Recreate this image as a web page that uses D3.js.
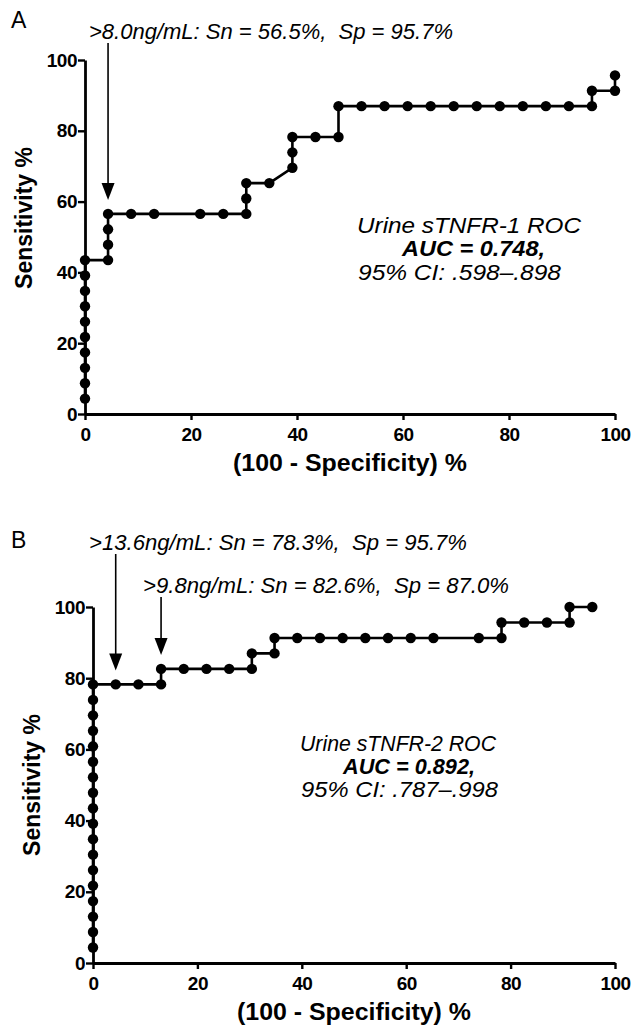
<!DOCTYPE html>
<html>
<head>
<meta charset="utf-8">
<script src="https://cdn.jsdelivr.net/npm/d3@7"></script>
<style>
  html, body { margin: 0; padding: 0; background: #fff; }
  svg { display: block; font-family: "Liberation Sans", Arial, sans-serif; }
</style>
</head>
<body>
<svg id="chart" width="633" height="1031"></svg>
<script>
// ---- Data ----
const fprA  = [0,0,0,0,0,0,0,0,0,0, 4.35,4.35,4.35,4.35, 8.70,13.04,21.74,26.09,30.43,30.43,30.43, 34.78, 39.13,39.13,39.13, 43.48, 47.83,47.83, 52.17,56.52,60.87,65.22,69.57,73.91,78.26,82.61,86.96,91.30,95.65,95.65, 100,100];
const sensA = [4.35,8.70,13.04,17.39,21.74,26.09,30.43,34.78,39.13,43.48, 43.48,47.83,52.17,56.52, 56.52,56.52,56.52,56.52,56.52,60.87,65.22, 65.22, 69.57,73.91,78.26, 78.26, 78.26,86.96, 86.96,86.96,86.96,86.96,86.96,86.96,86.96,86.96,86.96,86.96,86.96,91.30, 91.30,95.65];

const fprB  = [0,0,0,0,0,0,0,0,0,0,0,0,0,0,0,0,0,0, 4.35,8.70,13.04,13.04, 17.39,21.74,26.09,30.43,30.43, 34.78,34.78, 39.13,43.48,47.83,52.17,56.52,60.87,65.22,73.91,78.26,78.26, 82.61,86.96,91.30,91.30, 95.65];
const sensB = [4.35,8.70,13.04,17.39,21.74,26.09,30.43,34.78,39.13,43.48,47.83,52.17,56.52,60.87,65.22,69.57,73.91,78.26, 78.26,78.26,78.26,82.61, 82.61,82.61,82.61,82.61,86.96, 86.96,91.30, 91.30,91.30,91.30,91.30,91.30,91.30,91.30,91.30,91.30,95.65, 95.65,95.65,95.65,100, 100];

const xTicks = [0, 20, 40, 60, 80, 100];
const yTicks = [0, 20, 40, 60, 80, 100];

const panelLetters = ["A", "B"];
const rocTitles = ["Urine sTNFR-1 ROC", "Urine sTNFR-2 ROC"];
const aucTexts = ["AUC = 0.748,", "AUC = 0.892,"];
const ciTexts = ["95% CI: .598\u2013.898", "95% CI: .787\u2013.998"];
const cutoffLabelsA = [">8.0ng/mL: Sn = 56.5%,  Sp = 95.7%"];
const cutoffLabelsB = [">13.6ng/mL: Sn = 78.3%,  Sp = 95.7%", ">9.8ng/mL: Sn = 82.6%,  Sp = 87.0%"];
const cutoffA = [{x: 4.35, y: 56.52}];
const cutoffB = [{x: 4.35, y: 78.26}, {x: 13.04, y: 82.61}];

// ---- Drawing ----
const svg = d3.select("#chart");

const panels = [
  {fpr: fprA, sens: sensA, left: 85, right: 615, top: 60, bottom: 414,
   letterY: 28, cut: cutoffA, cutLabels: cutoffLabelsA,
   cutLabelPos: [{x: 89, y: 39, w: 364}],
   yTitleY: 218,
   txt: [{x: 357, y: 233, w: 224}, {x: 402, y: 256, w: 143}, {x: 358, y: 280, w: 203}]},
  {fpr: fprB, sens: sensB, left: 93, right: 615, top: 607, bottom: 963,
   letterY: 548, cut: cutoffB, cutLabels: cutoffLabelsB,
   cutLabelPos: [{x: 89, y: 550, w: 378}, {x: 143, y: 593, w: 366}],
   yTitleY: 785,
   txt: [{x: 300, y: 751, w: 196}, {x: 343, y: 774, w: 132}, {x: 301, y: 797, w: 197}]}
];

panels.forEach((p, i) => {
  const x = d3.scaleLinear().domain([0, 100]).range([p.left, p.right]);
  const y = d3.scaleLinear().domain([0, 100]).range([p.bottom, p.top]);
  const g = svg.append("g");

  // panel letter
  g.append("text").attr("x", 11).attr("y", p.letterY)
    .attr("font-size", 23).text(panelLetters[i]);

  // axes
  const xAxis = d3.axisBottom(x).tickValues(xTicks).tickSize(6).tickSizeOuter(0).tickPadding(8);
  const yAxis = d3.axisLeft(y).tickValues(yTicks).tickSize(7).tickSizeOuter(0).tickPadding(1);
  const gx = g.append("g").attr("transform", `translate(0,${p.bottom})`).call(xAxis);
  const gy = g.append("g").attr("transform", `translate(${p.left},0)`).call(yAxis);
  [gx, gy].forEach(a => {
    a.select(".domain").attr("stroke", "#000").attr("stroke-width", 2.8);
    a.selectAll(".tick line").attr("stroke", "#000").attr("stroke-width", 2.4);
    a.selectAll(".tick text").attr("font-size", 19).attr("font-weight", "bold")
      .attr("fill", "#000").attr("font-family", "Liberation Sans, Arial, sans-serif")
      .attr("letter-spacing", -0.5);
  });

  // axis titles
  g.append("text").attr("x", (p.left + p.right) / 2).attr("y", p.bottom + 57)
    .attr("text-anchor", "middle").attr("font-size", 23).attr("font-weight", "bold")
    .attr("textLength", 234).attr("lengthAdjust", "spacingAndGlyphs")
    .text("(100 - Specificity) %");
  g.append("text")
    .attr("transform", `translate(${p.left - 53},${p.yTitleY}) rotate(-90)`)
    .attr("text-anchor", "middle").attr("font-size", 23).attr("font-weight", "bold")
    .text("Sensitivity %");

  // ROC line
  const pts = p.fpr.map((v, k) => [v, p.sens[k]]);
  g.append("path").datum(pts)
    .attr("d", d3.line().x(d => x(d[0])).y(d => y(d[1])))
    .attr("fill", "none").attr("stroke", "#000").attr("stroke-width", 2.6);
  g.selectAll("circle.pt").data(pts).join("circle").attr("class", "pt")
    .attr("cx", d => x(d[0])).attr("cy", d => y(d[1])).attr("r", 5.2).attr("fill", "#000");

  // cutoff annotations with arrows
  p.cut.forEach((c, k) => {
    const lp = p.cutLabelPos[k];
    g.append("text").attr("x", lp.x).attr("y", lp.y)
      .attr("font-size", 22.5).attr("font-style", "italic").attr("xml:space", "preserve")
      .attr("textLength", lp.w).attr("lengthAdjust", "spacingAndGlyphs")
      .text(p.cutLabels[k]);
    const ax = x(c.x), tipY = y(c.y) - 14, headH = 17, headW = 13;
    g.append("line").attr("x1", ax).attr("x2", ax)
      .attr("y1", lp.y + 4).attr("y2", tipY - headH + 1)
      .attr("stroke", "#000").attr("stroke-width", 1.6);
    g.append("path")
      .attr("d", `M${ax - headW / 2},${tipY - headH} L${ax + headW / 2},${tipY - headH} L${ax},${tipY} Z`)
      .attr("fill", "#000");
  });

  // AUC text block
  const t = p.txt;
  g.append("text").attr("x", t[0].x).attr("y", t[0].y)
    .attr("font-size", 22.5).attr("font-style", "italic")
    .attr("textLength", t[0].w).attr("lengthAdjust", "spacingAndGlyphs").text(rocTitles[i]);
  g.append("text").attr("x", t[1].x).attr("y", t[1].y)
    .attr("font-size", 22.5).attr("font-style", "italic").attr("font-weight", "bold")
    .attr("textLength", t[1].w).attr("lengthAdjust", "spacingAndGlyphs").text(aucTexts[i]);
  g.append("text").attr("x", t[2].x).attr("y", t[2].y)
    .attr("font-size", 22.5).attr("font-style", "italic")
    .attr("textLength", t[2].w).attr("lengthAdjust", "spacingAndGlyphs").text(ciTexts[i]);
});
</script>
</body>
</html>
